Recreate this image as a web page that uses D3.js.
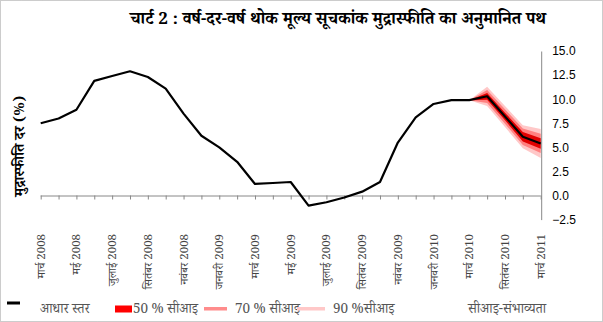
<!DOCTYPE html>
<html>
<head>
<meta charset="utf-8">
<script src="https://cdn.jsdelivr.net/npm/d3@7"></script>
<style>
  html, body { margin: 0; padding: 0; background: #fff; }
  svg { display: block; }
  .dev { font-family: "Noto Serif Devanagari", "Noto Sans Devanagari", "Lohit Devanagari", "Mangal", "Liberation Serif", serif; }
</style>
</head>
<body>
<svg id="chart" width="603" height="322"></svg>
<script>
// ---- data ----
const categories = [
  "मार्च 2008","अप्रैल 2008","मई 2008","जून 2008","जुलाई 2008","अगस्त 2008","सितंबर 2008","अक्तूबर 2008",
  "नवंबर 2008","दिसंबर 2008","जनवरी 2009","फरवरी 2009","मार्च 2009","अप्रैल 2009","मई 2009","जून 2009",
  "जुलाई 2009","अगस्त 2009","सितंबर 2009","अक्तूबर 2009","नवंबर 2009","दिसंबर 2009","जनवरी 2010","फरवरी 2010",
  "मार्च 2010","जून 2010","सितंबर 2010","दिसंबर 2010","मार्च 2011"
];
const tickLabelIdx = [0,2,4,6,8,10,12,14,16,18,20,22,24,26,28];
const baseline = [
  7.5, 8.0, 8.9, 11.9, 12.4, 12.9, 12.3, 11.1,
  8.5, 6.2, 5.0, 3.5, 1.2, 1.3, 1.4, -1.05,
  -0.7, -0.2, 0.4, 1.4, 5.5, 8.1, 9.5, 9.9,
  9.9, 10.3, 8.2, 6.1, 5.4
];
// fan (projection) from index 24 onward
const fanIdx   = [24, 25, 26, 27, 28];
const fanLo90  = [9.9, 9.3, 7.1, 4.9, 3.9];
const fanHi90  = [9.9, 11.3, 9.3, 7.3, 6.9];
const fanLo70  = [9.9, 9.6, 7.45, 5.25, 4.4];
const fanHi70  = [9.9, 10.95, 8.95, 6.95, 6.4];
const fanLo50  = [9.9, 9.95, 7.8, 5.6, 4.85];
const fanHi50  = [9.9, 10.65, 8.6, 6.6, 5.95];
const yTicks = [-2.5, 0, 2.5, 5, 7.5, 10, 12.5, 15];

const title = "चार्ट 2 : वर्ष-दर-वर्ष थोक मूल्य सूचकांक मुद्रास्फीति का अनुमानित पथ";
const yTitle = "मुद्रास्फीति दर (%)";
const legendItems = ["आधार स्तर", "50 % सीआइ", "70 % सीआइ", "90 %सीआइ"];
const legendNote = "सीआइ-संभाव्यता";

// ---- drawing ----
const svg = d3.select("#chart");
const W = 603, H = 322;

svg.append("rect").attr("x",0.5).attr("y",0.5).attr("width",W-1).attr("height",H-1)
  .attr("fill","#fff").attr("stroke","#999").attr("stroke-dasharray","1,1");

const x = d3.scalePoint().domain(d3.range(categories.length)).range([40.7, 540.7]);
const y = d3.scaleLinear().domain([-2.5, 15]).range([219.6, 51]);

// title
svg.append("text").attr("class","dev")
  .attr("x", 338).attr("y", 24).attr("text-anchor","middle")
  .attr("font-size", 17).attr("font-weight","bold").attr("fill","#000")
  .text(title);

// y title
svg.append("text").attr("class","dev")
  .attr("transform","translate(24,146) rotate(-90)")
  .attr("text-anchor","middle").attr("font-size",14.5).attr("font-weight","bold")
  .text(yTitle);

// fan bands
const area = (lo, hi) => d3.area()
  .x((d,i) => x(fanIdx[i]))
  .y0((d,i) => y(lo[i]))
  .y1((d,i) => y(hi[i]));
svg.append("path").attr("d", area(fanLo90, fanHi90)(fanIdx)).attr("fill","#ffc8c8");
svg.append("path").attr("d", area(fanLo70, fanHi70)(fanIdx)).attr("fill","#ff8080");
svg.append("path").attr("d", area(fanLo50, fanHi50)(fanIdx)).attr("fill","#e00000");

// x axis at 0
const xAxis = d3.axisBottom(x).tickSize(4).tickFormat("");
const gx = svg.append("g").attr("transform", `translate(0,${y(0)})`).call(xAxis);
gx.select(".domain").attr("stroke","#888").attr("d", `M40.7,0.5H540.7`);
gx.selectAll(".tick line").attr("stroke","#888");

// x labels
svg.append("g").selectAll("text").data(tickLabelIdx).join("text")
  .attr("class","dev")
  .attr("transform", d => `translate(${x(d)},234) rotate(-90)`)
  .attr("text-anchor","end").attr("dy","0.35em")
  .attr("font-size",11.5).attr("fill","#444")
  .text(d => categories[d]);

// right y axis
const yAxis = d3.axisRight(y).tickValues(yTicks).tickSize(0).tickPadding(11)
  .tickFormat(d3.format(".1f"));
const gy = svg.append("g").attr("transform","translate(541.2,0)").call(yAxis);
gy.select(".domain").attr("stroke","#888");
gy.selectAll("text").attr("font-family","Arial, 'Liberation Sans', sans-serif").attr("font-size",12).attr("fill","#000");

// baseline line
svg.append("path").datum(baseline)
  .attr("fill","none").attr("stroke","#000").attr("stroke-width",2.2)
  .attr("stroke-linejoin","round")
  .attr("d", d3.line().x((d,i)=>x(i)).y(d=>y(d)));

// legend
const lg = svg.append("g").attr("class","dev").attr("font-size",13.5).attr("fill","#555");
lg.append("rect").attr("x",7).attr("y",301.5).attr("width",13).attr("height",3).attr("fill","#000");
lg.append("text").attr("x",40).attr("y",313).text(legendItems[0]);
lg.append("rect").attr("x",115).attr("y",305.5).attr("width",17).attr("height",7).attr("fill","#ff0000");
lg.append("text").attr("x",133).attr("y",313).text(legendItems[1]);
lg.append("rect").attr("x",204).attr("y",307).attr("width",23).attr("height",3.5).attr("fill","#ff8c8c");
lg.append("text").attr("x",235).attr("y",313).text(legendItems[2]);
lg.append("rect").attr("x",297).attr("y",307).attr("width",28).attr("height",3.5).attr("fill","#ffc8c8");
lg.append("text").attr("x",333).attr("y",313).text(legendItems[3]);
lg.append("text").attr("x",468).attr("y",313).text(legendNote);
</script>
</body>
</html>
